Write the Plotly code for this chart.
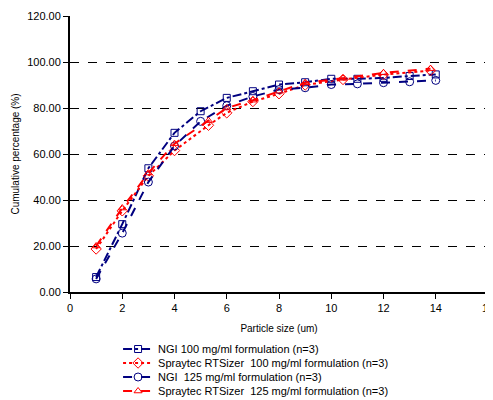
import plotly.graph_objects as go

# NGI 100 mg/ml
ngi100_x = [1, 2, 3, 4, 5, 6, 7, 8, 9, 10, 11, 12, 13, 14]
ngi100_y = [6.5, 29.5, 53.8, 69.2, 78.6, 84.4, 87.3, 90.2, 91.2, 92.7, 92.7, 93.1, 93.9, 94.6]
# Spraytec 100 mg/ml
spr100_x = [1, 2, 3, 4, 5.3, 6, 7, 8, 9, 10.45, 12, 13.8]
spr100_y = [18.7, 35.3, 50.5, 61.5, 72.5, 77.9, 82.8, 86.2, 90.0, 92.4, 94.5, 96.3]
# NGI 125 mg/ml
ngi125_x = [1, 2, 3, 4, 5, 6, 7, 8, 9, 10, 11, 12, 13, 14]
ngi125_y = [5.7, 25.6, 47.8, 63.5, 74.2, 81.0, 85.0, 88.0, 88.8, 90.2, 90.5, 91.0, 91.4, 92.0]
# Spraytec 125 mg/ml
spr125_x = [1, 2, 3, 4, 5.3, 6, 7, 8, 9, 10.45, 12, 13.8]
spr125_y = [20.0, 36.5, 51.7, 64.5, 74.5, 80.0, 83.4, 87.3, 91.0, 92.9, 95.3, 97.1]

x_ticks = [0, 2, 4, 6, 8, 10, 12, 14, 16]
y_ticks = [0, 20, 40, 60, 80, 100, 120]

NAVY = "#000080"
RED = "#FF0000"

fig = go.Figure()
series = [
    ("NGI 100 mg/ml formulation (n=3)", ngi100_x, ngi100_y, NAVY, "square-open", "dashdot", 7, "legend"),
    ("Spraytec RTSizer  100 mg/ml formulation (n=3)", spr100_x, spr100_y, RED, "diamond-open", "dot", 8, "legend2"),
    ("NGI  125 mg/ml formulation (n=3)", ngi125_x, ngi125_y, NAVY, "circle-open", "dash", 8, "legend3"),
    ("Spraytec RTSizer  125 mg/ml formulation (n=3)", spr125_x, spr125_y, RED, "triangle-up-open", "dash", 7, "legend4"),
]
for name, xs, ys, col, sym, dash, sz, lg in series:
    fig.add_trace(go.Scatter(
        x=xs, y=ys, name=name, mode="lines+markers", legend=lg,
        line=dict(color=col, width=2, dash=dash),
        marker=dict(symbol=sym, size=sz, color=col, line=dict(width=1, color=col)),
    ))

# page has an 8px body margin; figure is sized to fit the 493x400 window
PLOT_TOP, PLOT_BOTTOM = 16, 292
def ypaper(py):
    return (PLOT_BOTTOM - py) / (PLOT_BOTTOM - PLOT_TOP)

legend_rows = [349, 363, 377, 391]
def leg(py):
    return dict(x=0.115, y=ypaper(py), xanchor="left", yanchor="middle",
                orientation="v", font=dict(size=11), bgcolor="rgba(0,0,0,0)",
                itemwidth=30)

fig.update_layout(
    width=485, height=392,
    margin=dict(l=62, r=5, t=8, b=108, autoexpand=False),
    paper_bgcolor="white", plot_bgcolor="white",
    font=dict(family="Liberation Sans, Arial, sans-serif", size=10, color="black"),
    showlegend=True,
    legend=leg(legend_rows[0]),
    legend2=leg(legend_rows[1]),
    legend3=leg(legend_rows[2]),
    legend4=leg(legend_rows[3]),
    xaxis=dict(range=[0, 16], tickvals=x_ticks, showgrid=False, zeroline=False,
               showline=True, linecolor="black", linewidth=2, ticks="outside",
               ticklen=5, tickcolor="black", automargin=False,
               tickfont=dict(size=11), ticklabeloverflow="allow",
               title=dict(text="Particle size (um)", font=dict(size=10), standoff=12)),
    yaxis=dict(range=[0, 120], tickvals=y_ticks, tickformat=".2f", showgrid=True,
               gridcolor="black", griddash="dash", gridwidth=1, zeroline=False,
               showline=True, linecolor="black", linewidth=2, ticks="outside",
               ticklen=5, tickcolor="black", automargin=False,
               tickfont=dict(size=11),
               title=dict(text="Cumulative percentage (%)", font=dict(size=10), standoff=6)),
)

fig.write_html("out.html")
